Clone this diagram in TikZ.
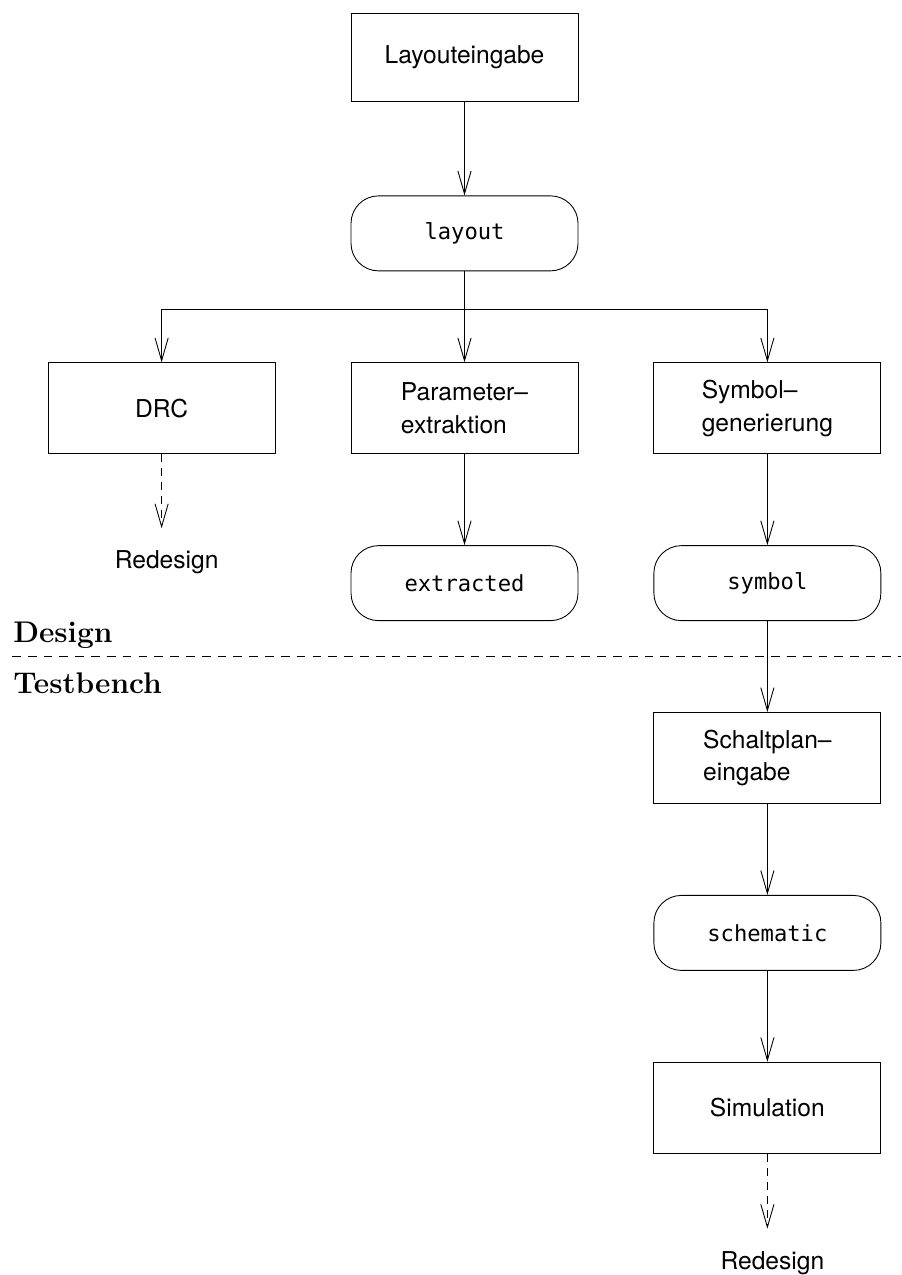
\documentclass[tikz,border=0pt]{standalone}
\usepackage{fontspec}
\setsansfont{TeX Gyre Heros}
\setmonofont{DejaVu Sans Mono}
\usepackage{tikz}
\usetikzlibrary{arrows.meta, positioning}

\begin{document}
\begin{tikzpicture}[
    node distance=1.82cm and 1.5cm,
    box/.style={rectangle, draw, line width=0.5pt, minimum width=4.54cm, minimum height=1.82cm, align=left, font=\sffamily\fontsize{14}{18.7}\selectfont},
    datafile/.style={rectangle, draw, line width=0.5pt, rounded corners=0.55cm, minimum width=4.54cm, minimum height=1.5cm, font=\ttfamily\fontsize{12.6}{14}\selectfont},
    endtext/.style={inner sep=0pt, anchor=north, xshift=0.1cm, font=\sffamily\fontsize{14}{17}\selectfont},
    section/.style={inner sep=0pt, anchor=base west, font=\bfseries\fontsize{17}{20}\selectfont},
    arrow/.style={line width=0.5pt, -{Straight Barb[length=13pt, width=7.5pt]}},
    redo/.style={arrow, dash pattern=on 4.5pt off 3.5pt, shorten >=0.44cm}
]
\useasboundingbox (0,0) rectangle (18.02,-25.5);

% Layout
\node[box, minimum height=1.76cm] (input) at (9.29,-1.14) {Layouteingabe};
\node[datafile, below=1.88cm of input] (layout) {layout};

% Checks and extraction
\node[box, below=of layout] (param) {Parameter--\\extraktion};
\node[box, left=of param, align=center] (drc) {DRC};
\node[box, right=of param] (symgen) {Symbol--\\generierung};
\node[endtext, below=1.92cm of drc] (redesign_a) {Redesign};
\node[datafile, below=of param] (extracted) {extracted};
\node[datafile, below=of symgen] (symbol) {symbol};

% Testbench
\node[box, below=of symbol] (schaltplan) {Schaltplan--\\eingabe};
\node[datafile, below=of schaltplan] (schematic) {schematic};
\node[box, below=of schematic, align=center] (sim) {Simulation};
\node[endtext, below=1.94cm of sim] (redesign_b) {Redesign};

% Separator
\draw[line width=0.5pt, dash pattern=on 5pt off 4pt] (0.24,-13.12) -- (18.02,-13.12);
\node[section] (design) at (0.26,-12.84) {Design};
\node[section] (testbench) at (0.26,-13.86) {Testbench};

% Arrows
\draw[arrow] (input) -- (layout);
\draw[arrow] (layout.south) -- ++(0,-0.76) -| (drc.north);
\draw[arrow] (layout) -- (param);
\draw[arrow] (layout.south) -- ++(0,-0.76) -| (symgen.north);
\draw[redo] (drc) -- (drc |- redesign_a.north);
\draw[arrow] (param) -- (extracted);
\draw[arrow] (symgen) -- (symbol);
\draw[arrow] (symbol) -- (schaltplan);
\draw[arrow] (schaltplan) -- (schematic);
\draw[arrow] (schematic) -- (sim);
\draw[redo] (sim) -- (sim |- redesign_b.north);

\end{tikzpicture}
\end{document}
